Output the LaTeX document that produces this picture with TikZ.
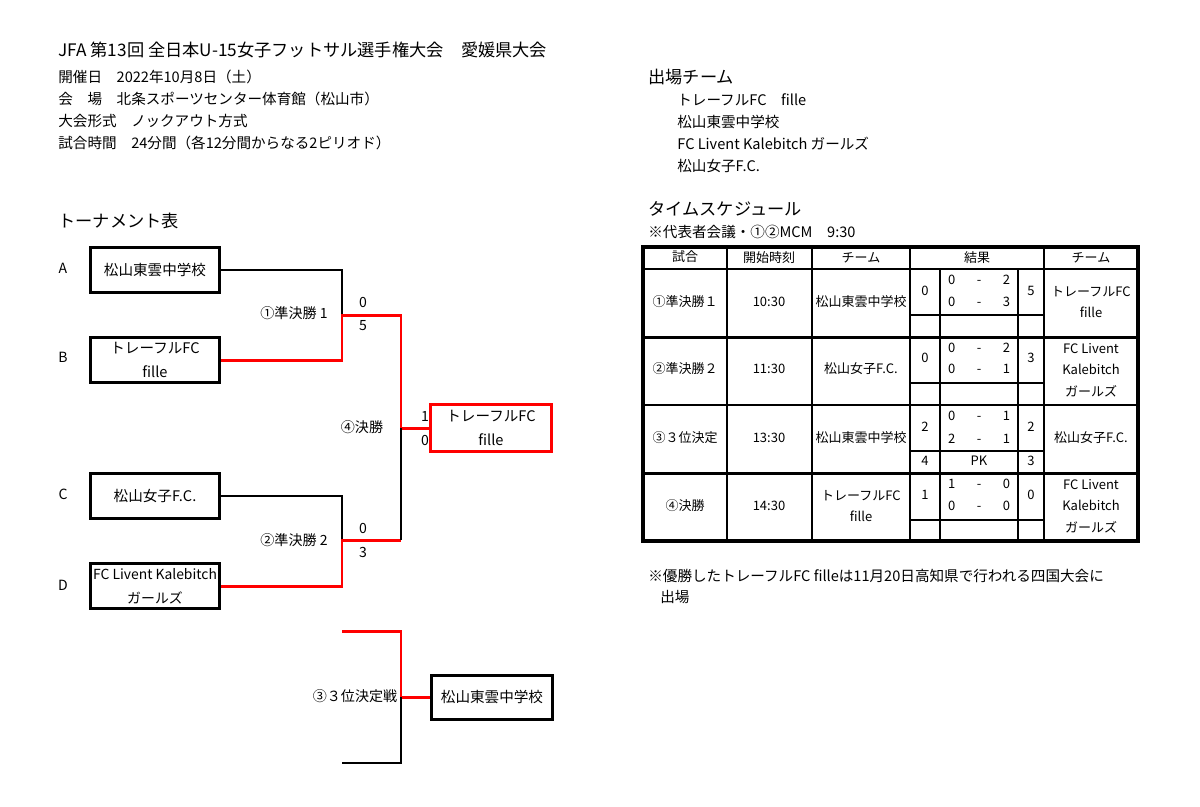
\documentclass[tikz,border=0pt]{standalone}
\usepackage{fontspec}
\setmainfont{Noto Sans CJK JP}
\usepackage{tikz}
\usetikzlibrary{positioning}
\definecolor{winred}{RGB}{255,0,0}
\tikzstyle{team} = [rectangle, draw=black, line width=1.7pt, minimum width=2.6cm, minimum height=0.9cm, align=center, inner sep=1pt, font=\fontsize{8.3}{13.5}\selectfont]
\tikzstyle{winner} = [team, draw=winred, line width=2.2pt, minimum width=2.42cm, minimum height=0.94cm]
\tikzstyle{win} = [draw=winred, line width=1.7pt]
\tikzstyle{lose} = [draw=black, line width=1.2pt]
\tikzstyle{headtxt} = [anchor=west, inner sep=0pt, font=\fontsize{9.8}{12}\selectfont]
\tikzstyle{txt} = [anchor=west, inner sep=0pt, font=\fontsize{8.3}{10}\selectfont]
\tikzstyle{lbl} = [inner sep=0pt, font=\fontsize{8}{10}\selectfont]
\tikzstyle{tcell} = [inner sep=0pt, align=center, font=\fontsize{7.4}{12.3}\selectfont]
\tikzstyle{tscore} = [inner sep=0pt, text width=1.24cm, font=\fontsize{7.4}{12.3}\selectfont]
\tikzstyle{tblline} = [line width=1.3pt]
\tikzstyle{tblframe} = [line width=1.8pt]

\begin{document}
\begin{tikzpicture}[x=0.02cm, y=-0.02cm]
\useasboundingbox (0,0) rectangle (1200,806);

% Heading
\node[headtxt] (title) at (58,50) {JFA 第13回 全日本U-15女子フットサル選手権大会　愛媛県大会};
\node[txt] (date) at (58,77) {開催日　2022年10月8日（土）};
\node[txt] (venue) at (58,99) {会　場　北条スポーツセンター体育館（松山市）};
\node[txt] (format) at (58,121) {大会形式　ノックアウト方式};
\node[txt] (time) at (58,143) {試合時間　24分間（各12分間からなる2ピリオド）};

% Bracket
\node[headtxt] (brtitle) at (58,221) {トーナメント表};
\node[lbl] (labA) at (63,268) {A};
\node[lbl] (labB) at (63,357) {B};
\node[lbl] (labC) at (63,494) {C};
\node[lbl] (labD) at (63,585) {D};
\node[team] (teamA) at (155,270) {松山東雲中学校};
\node[team] (teamB) at (155,360) {トレーフルFC\\fille};
\node[team] (teamC) at (155,496) {松山女子F.C.};
\node[team, font=\fontsize{7.9}{13.5}\selectfont] (teamD) at (155,586) {FC Livent Kalebitch\\ガールズ};
\node[winner] (champ) at (491,428) {トレーフルFC\\fille};
\node[team, minimum width=2.42cm, minimum height=0.88cm] (third) at (492,697) {松山東雲中学校};

\coordinate (semiA) at (342,315);
\coordinate (semiB) at (342,540);
\coordinate (fin) at (401,428);
\coordinate (finB) at (401,540);
\coordinate (thirdTop) at (342,631);
\coordinate (thirdBot) at (342,763);
\coordinate (thirdJ) at (401,697);

% Connectors
\draw[lose] (teamA.east) -| (semiA);
\draw[win] (teamB.east) -| (semiA) -| (fin) -- (champ.west);
\draw[lose] (teamC.east) -| (semiB);
\draw[win] (teamD.east) -| (semiB) -- (finB);
\draw[lose] (finB) -- (fin);
\draw[win] (thirdTop) -| (thirdJ) -- (third.west);
\draw[lose] (thirdBot) -| (thirdJ);

% Scores and match labels
\node[lbl] (sA) at (363,302) {0};
\node[lbl] (sB) at (363,326) {5};
\node[lbl] (sC) at (363,528) {0};
\node[lbl] (sD) at (363,552) {3};
\node[lbl] (fB) at (425,416) {1};
\node[lbl] (fD) at (425,440) {0};
\node[lbl] (m1) at (294,313) {①準決勝 1};
\node[lbl] (m2) at (294,540) {②準決勝 2};
\node[lbl] (m4) at (362,427) {④決勝};
\node[lbl] (m3) at (355,696) {③３位決定戦};

% Teams list
\node[headtxt] (entry) at (648,77) {出場チーム};
\node[txt] (e1) at (677,100) {トレーフルFC　fille};
\node[txt] (e2) at (677,122) {松山東雲中学校};
\node[txt] (e3) at (677,144) {FC Livent Kalebitch ガールズ};
\node[txt] (e4) at (677,166) {松山女子F.C.};

% Schedule
\node[headtxt] (sched) at (648,209) {タイムスケジュール};
\node[txt] (mcm) at (648,232) {※代表者会議・①②MCM　9:30};

\draw[tblline] (727,247) -- (727,541) (812,247) -- (812,541) (910,247) -- (910,541) (1044,247) -- (1044,541);
\draw[tblline] (940,269) -- (940,541) (1018,269) -- (1018,541);
\draw[tblline] (643,269) -- (1138,269) (643,337.5) -- (1138,337.5) (643,405) -- (1138,405) (643,473.5) -- (1138,473.5);
\draw[tblline] (910,315) -- (1044,315) (910,383) -- (1044,383) (910,451) -- (1044,451) (910,520) -- (1044,520);
\draw[tblframe] (643,247) rectangle (1138,541);

\node[tcell] (h1) at (685,257) {試合};
\node[tcell] (h2) at (769,258) {開始時刻};
\node[tcell] (h3) at (861,258) {チーム};
\node[tcell] (h4) at (977,258) {結果};
\node[tcell] (h5) at (1091,258) {チーム};

\node[tcell] (g1) at (685,302) {①準決勝１};
\node[tcell] (t1) at (769,302) {10:30};
\node[tcell] (ha1) at (861,302) {松山東雲中学校};
\node[tcell] (sa1) at (925,291) {0};
\node[tscore] (p1a) at (979,280) {0\hfill-\hfill2};
\node[tscore] (p1b) at (979,302) {0\hfill-\hfill3};
\node[tcell] (sb1) at (1031,291) {5};
\node[tcell] (hb1) at (1091,302) {トレーフルFC\\fille};

\node[tcell] (g2) at (685,369) {②準決勝２};
\node[tcell] (t2) at (769,369) {11:30};
\node[tcell] (ha2) at (861,369) {松山女子F.C.};
\node[tcell] (sa2) at (925,358) {0};
\node[tscore] (p2a) at (979,348) {0\hfill-\hfill2};
\node[tscore] (p2b) at (979,369) {0\hfill-\hfill1};
\node[tcell] (sb2) at (1031,358) {3};
\node[tcell] (hb2) at (1091,370) {FC Livent\\Kalebitch\\ガールズ};

\node[tcell] (g3) at (685,438) {③３位決定};
\node[tcell] (t3) at (769,438) {13:30};
\node[tcell] (ha3) at (861,438) {松山東雲中学校};
\node[tcell] (sa3) at (925,427) {2};
\node[tscore] (p3a) at (979,416) {0\hfill-\hfill1};
\node[tscore] (p3b) at (979,439) {2\hfill-\hfill1};
\node[tcell] (sb3) at (1031,427) {2};
\node[tcell] (hb3) at (1091,438) {松山女子F.C.};
\node[tcell] (k3a) at (925,461) {4};
\node[tcell] (k3) at (979,461) {PK};
\node[tcell] (k3b) at (1031,461) {3};

\node[tcell] (g4) at (685,506) {④決勝};
\node[tcell] (t4) at (769,506) {14:30};
\node[tcell] (ha4) at (861,506) {トレーフルFC\\fille};
\node[tcell] (sa4) at (925,495) {1};
\node[tscore] (p4a) at (979,484) {1\hfill-\hfill0};
\node[tscore] (p4b) at (979,506) {0\hfill-\hfill0};
\node[tcell] (sb4) at (1031,495) {0};
\node[tcell] (hb4) at (1091,506) {FC Livent\\Kalebitch\\ガールズ};

% Note
\node[txt] (note) at (648,576) {※優勝したトレーフルFC filleは11月20日高知県で行われる四国大会に};
\node[txt] (note2) at (660,597) {出場};
\end{tikzpicture}
\end{document}
